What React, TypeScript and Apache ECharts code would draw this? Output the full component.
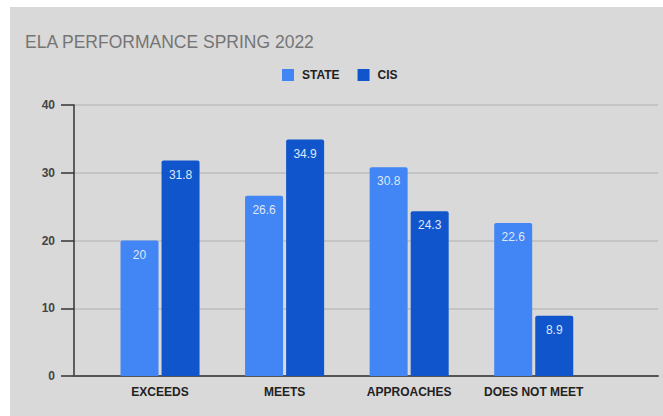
import React, { useEffect, useRef } from "react";
import * as echarts from "echarts";

const categories = ["EXCEEDS", "MEETS", "APPROACHES", "DOES NOT MEET"];
const stateValues = [20, 26.6, 30.8, 22.6];
const cisValues = [31.8, 34.9, 24.3, 8.9];
const seriesNames = ["STATE", "CIS"];
const titleText = "ELA PERFORMANCE SPRING 2022";

const SANS = "'Liberation Sans', Arial, sans-serif";

export default function App() {
  const ref = useRef<HTMLDivElement>(null);
  useEffect(() => {
    document.body.style.margin = "0";
    if (!ref.current) return;
    const chart = echarts.init(ref.current, undefined, { renderer: "svg" });
    const labelStyle = {
      show: true,
      position: "insideTop",
      distance: 8,
      color: "#dfe8f8",
      fontSize: 12,
      fontFamily: SANS,
    };
    chart.setOption({
      animation: false,
      backgroundColor: "transparent",
      title: {
        text: titleText,
        left: 10,
        top: 21,
        textStyle: {
          color: "#757575",
          fontSize: 17.5,
          fontWeight: "normal",
          fontFamily: SANS,
        },
      },
      legend: {
        data: seriesNames,
        left: 267,
        top: 57,
        icon: "rect",
        itemWidth: 12,
        itemHeight: 12,
        itemGap: 18,
        textStyle: {
          color: "#222",
          fontSize: 12,
          fontWeight: "bold",
          fontFamily: SANS,
          padding: [0, 0, 0, 3],
        },
      },
      grid: [
        { left: 64, top: 98, width: 584, height: 271 },
        { left: 87.75, top: 98, width: 498.25, height: 271 },
      ],
      xAxis: [
        {
          gridIndex: 0,
          type: "value",
          min: 0,
          max: 1,
          axisLine: { show: true, lineStyle: { color: "#555", width: 2 } },
          axisTick: { show: false },
          axisLabel: { show: false },
          splitLine: { show: false },
        },
        {
          gridIndex: 1,
          type: "category",
          data: categories,
          axisLine: { show: false },
          axisTick: { show: false },
          axisLabel: {
            interval: 0,
            margin: 10,
            color: "#222",
            fontSize: 12,
            fontWeight: "bold",
            fontFamily: SANS,
          },
        },
      ],
      yAxis: [
        {
          gridIndex: 0,
          type: "value",
          min: 0,
          max: 40,
          interval: 10,
          axisLine: { show: true, lineStyle: { color: "#333", width: 1.5 } },
          axisTick: { show: true, length: 13, lineStyle: { color: "#333", width: 1.5 } },
          axisLabel: {
            margin: 19,
            color: "#444",
            fontSize: 12,
            fontWeight: "bold",
            fontFamily: SANS,
          },
          splitLine: { show: true, lineStyle: { color: "#bdbdbd", width: 1.5 } },
        },
        {
          gridIndex: 1,
          type: "value",
          min: 0,
          max: 40,
          show: false,
        },
      ],
      series: [
        {
          name: seriesNames[0],
          type: "bar",
          xAxisIndex: 1,
          yAxisIndex: 1,
          data: stateValues,
          barWidth: 38,
          barGap: "8%",
          itemStyle: { color: "#4285f4", borderRadius: [2, 2, 0, 0] },
          label: labelStyle,
        },
        {
          name: seriesNames[1],
          type: "bar",
          xAxisIndex: 1,
          yAxisIndex: 1,
          data: cisValues,
          barWidth: 38,
          barGap: "8%",
          itemStyle: { color: "#1155cc", borderRadius: [2, 2, 0, 0] },
          label: labelStyle,
        },
      ],
    });
    return () => chart.dispose();
  }, []);
  return (
    <div style={{ position: "relative", width: 663, height: 416, background: "#ffffff", overflow: "hidden" }}>
      <div
        ref={ref}
        style={{ position: "absolute", left: 10, top: 7, width: 653, height: 409, background: "#d9d9d9" }}
      />
    </div>
  );
}
